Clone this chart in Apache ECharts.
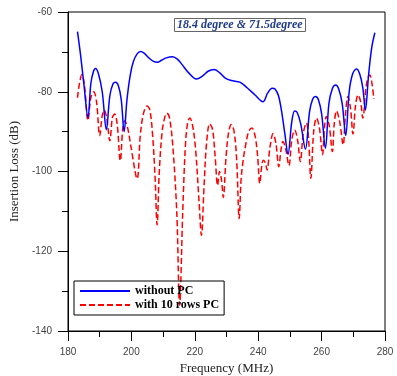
<!DOCTYPE html>
<html>
<head>
<meta charset="utf-8">
<script src="https://cdn.jsdelivr.net/npm/echarts@6/dist/echarts.min.js"></script>
<style>html,body{margin:0;padding:0;background:#fff}#c{width:397px;height:376px}</style>
</head>
<body>
<div id="c"></div>
<script>
const xTicks = [180, 200, 220, 240, 260, 280];
const yTicks = [-140, -120, -100, -80, -60];
const seriesNames = ['without PC', 'with 10 rows PC'];

const blueFreq = [183.0,184.0,185.0,186.3,187.2,188.0,188.7,189.6,190.8,192.1,193.2,194.2,195.0,195.9,196.8,197.7,198.6,199.6,200.6,201.8,202.9,204.0,205.5,207.0,208.2,209.5,211.0,213.0,214.5,216.0,218.0,220.5,222.5,224.3,226.1,227.8,229.5,231.5,234.2,236.5,239.0,241.5,243.0,244.4,245.3,246.4,247.4,248.4,249.4,250.6,251.5,252.3,253.4,254.9,256.2,257.2,258.1,259.0,260.0,261.2,262.3,263.4,264.4,265.4,266.5,267.6,268.7,269.8,271.0,272.0,273.0,273.8,274.8,275.8,276.8];
const blueLoss = [-64.9,-71,-78,-86.5,-78,-75,-74.2,-75.5,-80,-89.5,-81,-78,-77.6,-78.5,-82,-90,-82,-76,-72.5,-70.5,-69.9,-70.3,-71.5,-72.4,-72.6,-72.1,-71.5,-71.2,-71.8,-73.2,-75.2,-76.8,-76,-74.8,-74.4,-75.2,-76.5,-77.2,-77.6,-79,-80.8,-82.5,-80.3,-79.1,-79.3,-81,-85,-90.5,-95.7,-87.5,-84.8,-85.2,-88,-94.4,-85,-81.8,-81.2,-82,-85.5,-94.2,-83,-79.2,-78.3,-79.3,-83,-91,-80,-75.5,-74.3,-75.5,-79,-84.6,-76,-69,-65.2];

const redFreq = [183.0,183.6,184.4,185.2,186.3,187.2,188.1,189.0,190.0,190.8,191.4,192.2,193.2,194.0,194.7,195.5,196.5,197.3,197.9,198.8,199.8,201.8,202.8,203.8,204.9,205.8,206.7,207.5,208.1,208.8,209.7,210.5,211.2,212.0,213.0,214.3,215.2,216.2,217.0,217.7,218.4,219.2,220.2,221.3,222.1,222.9,223.7,224.7,225.6,226.4,227.2,227.8,228.4,229.0,229.8,230.6,231.5,232.4,233.2,234.0,234.6,235.2,236.0,237.0,238.0,239.0,239.8,240.5,241.2,241.7,242.3,242.8,243.7,244.7,245.6,246.5,247.2,247.8,248.7,249.7,250.6,251.5,252.4,253.3,254.2,255.2,255.9,256.6,257.5,258.4,259.3,260.3,260.9,261.5,262.4,263.4,264.0,264.7,265.7,266.8,267.5,268.3,269.1,269.9,270.7,271.5,272.3,273.0,274.0,274.6,275.2,275.8,276.5];
const redLoss = [-81.5,-78,-75.7,-78.5,-87.2,-81.5,-80,-82.5,-91,-86,-84.6,-86.5,-92.3,-86.5,-85.6,-88,-97.3,-89,-87.3,-89,-93.5,-101.8,-91,-85.5,-83.6,-84.5,-91,-102,-113.4,-100,-90,-86.5,-85.4,-86.5,-93,-110,-133.5,-110,-94,-88,-86.6,-88,-94,-107,-116,-104,-93,-88,-89.5,-96,-103.5,-100,-102,-106.5,-97,-90.5,-88.2,-90,-97,-111.8,-102,-97.5,-93.5,-90,-89.1,-91,-96,-103,-98,-97.2,-98,-99.6,-94,-90.5,-93,-98.8,-94.5,-92.5,-94.5,-98.5,-92,-89.6,-92,-97.5,-90.5,-87.8,-92,-101.7,-90,-86.6,-89,-95.8,-89,-86.2,-88.5,-95,-88,-84.8,-87.5,-93.3,-86,-81.2,-84,-90.6,-83.5,-80.8,-82.5,-86.6,-79,-76.5,-75.8,-77.5,-81.8];

const zip = (a, b) => a.map((v, i) => [v, b[i]]);

const chart = echarts.init(document.getElementById('c'));
const tickFont = {fontFamily: 'Liberation Sans', fontSize: 10, color: '#444'};
chart.setOption({
  animation: false,
  backgroundColor: '#fff',
  title: {
    text: '18.4 degree & 71.5degree',
    left: 174, top: 18,
    padding: [1, 3],
    borderColor: '#666', borderWidth: 1,
    textStyle: {fontFamily: 'Liberation Serif', fontStyle: 'italic', fontWeight: 'bold', fontSize: 12, color: '#1f3c88'}
  },
  grid: {left: 68, right: 12, top: 12, bottom: 45, show: true, borderColor: '#000', borderWidth: 1,
         outerBoundsMode: 'none', containLabel: false},
  legend: {
    orient: 'vertical', left: 74, top: 281,
    padding: [4, 5], itemGap: 2, itemWidth: 50, itemHeight: 14,
    borderColor: '#000', borderWidth: 1,
    itemStyle: {color: 'rgba(0,0,0,0)', borderWidth: 0, opacity: 0},
    data: seriesNames,
    textStyle: {fontFamily: 'Liberation Serif', fontWeight: 'bold', fontSize: 12, color: '#000'}
  },
  xAxis: {
    type: 'value', min: 180, max: 280, interval: 20,
    name: 'Frequency (MHz)', nameLocation: 'middle', nameGap: 27,
    nameTextStyle: {fontFamily: 'Liberation Serif', fontSize: 13, color: '#222'},
    axisLine: {lineStyle: {color: '#000', width: 1}},
    axisTick: {inside: false, length: 10, lineStyle: {color: '#000'}},
    minorTick: {show: true, splitNumber: 2, length: 6, lineStyle: {color: '#000'}},
    axisLabel: Object.assign({margin: 16, formatter: v => xTicks.includes(v) ? String(v) : ''}, tickFont),
    splitLine: {show: false}
  },
  yAxis: {
    type: 'value', min: -140, max: -60, interval: 20,
    name: 'Insertion Loss (dB)', nameLocation: 'middle', nameGap: 36,
    nameTextStyle: {fontFamily: 'Liberation Serif', fontSize: 13, color: '#222'},
    axisLine: {show: true, lineStyle: {color: '#000', width: 1}},
    axisTick: {show: true, inside: false, length: 10, lineStyle: {color: '#000'}},
    minorTick: {show: true, splitNumber: 2, length: 6, lineStyle: {color: '#000'}},
    axisLabel: Object.assign({margin: 16, formatter: v => yTicks.includes(v) ? String(v) : ''}, tickFont),
    splitLine: {show: false}
  },
  series: [
    {name: seriesNames[0], type: 'line', data: zip(blueFreq, blueLoss), symbol: 'none', smooth: 0.35,
     lineStyle: {color: '#0000ff', width: 1.5}, itemStyle: {color: '#0000ff'}, z: 3},
    {name: seriesNames[1], type: 'line', data: zip(redFreq, redLoss), symbol: 'none', smooth: 0.35,
     lineStyle: {color: '#ff0000', width: 1.5, type: [6, 3]}, itemStyle: {color: '#ff0000'}, z: 2}
  ]
});
</script>
</body>
</html>
